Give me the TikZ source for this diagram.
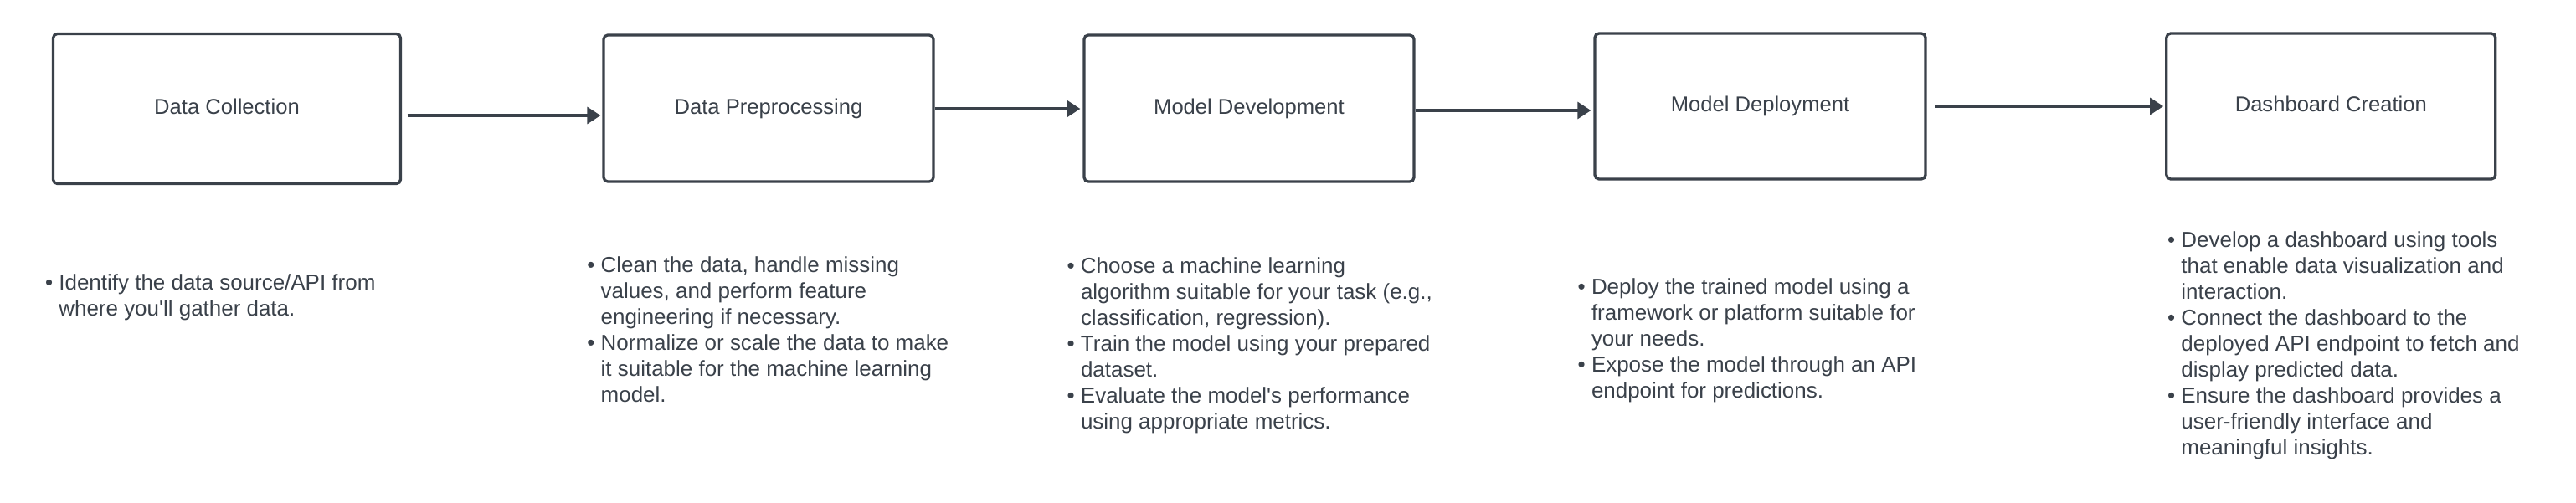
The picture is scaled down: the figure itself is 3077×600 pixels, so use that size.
\documentclass[tikz,border=0pt]{standalone}
\usepackage{fontspec}
\setmainfont{Liberation Sans}
\usetikzlibrary{arrows.meta}
\definecolor{ink}{HTML}{3A414A}
\tikzset{
  stagebox/.style={draw=ink, line width=1.65pt, rounded corners=2.5pt, inner sep=0pt,
    text=ink, font=\fontsize{12.8}{15.5}\selectfont, text height=9.2pt, text depth=2.7pt},
  flowarrow/.style={draw=ink, line width=1.6pt, -{Triangle[length=8pt,width=10pt]}},
  notes/.style={anchor=base west, inner sep=0pt, text=ink, font=\fontsize{12.98}{15.5}\selectfont}
}
\newcommand{\bitem}{\textbullet}
\newcommand{\sq}{\textquotesingle}
\begin{document}
\begin{tikzpicture}[x=0.5pt,y=-0.5pt]
\useasboundingbox (0,0) rectangle (3077,600);
\node[stagebox, minimum width=207.5pt, minimum height=89.5pt] (b1) at (271,130) {Data Collection};
\node[stagebox, minimum width=197pt, minimum height=87.5pt] (b2) at (918,129.5) {Data Preprocessing};
\node[stagebox, minimum width=197pt, minimum height=87.5pt] (b3) at (1492,129.5) {Model Development};
\node[stagebox, minimum width=197.5pt, minimum height=87pt] (b4) at (2102.5,127) {Model Deployment};
\node[stagebox, minimum width=196.5pt, minimum height=87pt] (b5) at (2784.3,127) {Dashboard Creation};

\draw[flowarrow] ([shift={(6.5,8)}]b1.east) -- ([shift={(-2,8.5)}]b2.west);
\draw[flowarrow] ([shift={(0,0.5)}]b2.east) -- ([shift={(-3,0.5)}]b3.west);
\draw[flowarrow] ([shift={(0,2.5)}]b3.east) -- ([shift={(-3,5)}]b4.west);
\draw[flowarrow] ([shift={(9,0)}]b4.east) -- ([shift={(-2,0)}]b5.west);

\node[notes] (n1) at (53.7,346.7) {\begin{tabular}[t]{@{}l@{\hspace{3.6pt}}l@{}}
\bitem & Identify the data source/API from\\
 & where you\sq ll gather data.
\end{tabular}};
\node[notes] (n2) at (701,325.7) {\begin{tabular}[t]{@{}l@{\hspace{3.6pt}}l@{}}
\bitem & Clean the data, handle missing\\
 & values, and perform feature\\
 & engineering if necessary.\\
\bitem & Normalize or scale the data to make\\
 & it suitable for the machine learning\\
 & model.
\end{tabular}};
\node[notes] (n3) at (1274.3,326) {\begin{tabular}[t]{@{}l@{\hspace{3.6pt}}l@{}}
\bitem & Choose a machine learning\\
 & algorithm suitable for your task (e.g.,\\
 & classification, regression).\\
\bitem & Train the model using your prepared\\
 & dataset.\\
\bitem & Evaluate the model\sq s performance\\
 & using appropriate metrics.
\end{tabular}};
\node[notes] (n4) at (1884.3,351) {\begin{tabular}[t]{@{}l@{\hspace{3.6pt}}l@{}}
\bitem & Deploy the trained model using a\\
 & framework or platform suitable for\\
 & your needs.\\
\bitem & Expose the model through an API\\
 & endpoint for predictions.
\end{tabular}};
\node[notes] (n5) at (2588.7,295) {\begin{tabular}[t]{@{}l@{\hspace{3.6pt}}l@{}}
\bitem & Develop a dashboard using tools\\
 & that enable data visualization and\\
 & interaction.\\
\bitem & Connect the dashboard to the\\
 & deployed API endpoint to fetch and\\
 & display predicted data.\\
\bitem & Ensure the dashboard provides a\\
 & user-friendly interface and\\
 & meaningful insights.
\end{tabular}};
\end{tikzpicture}
\end{document}
